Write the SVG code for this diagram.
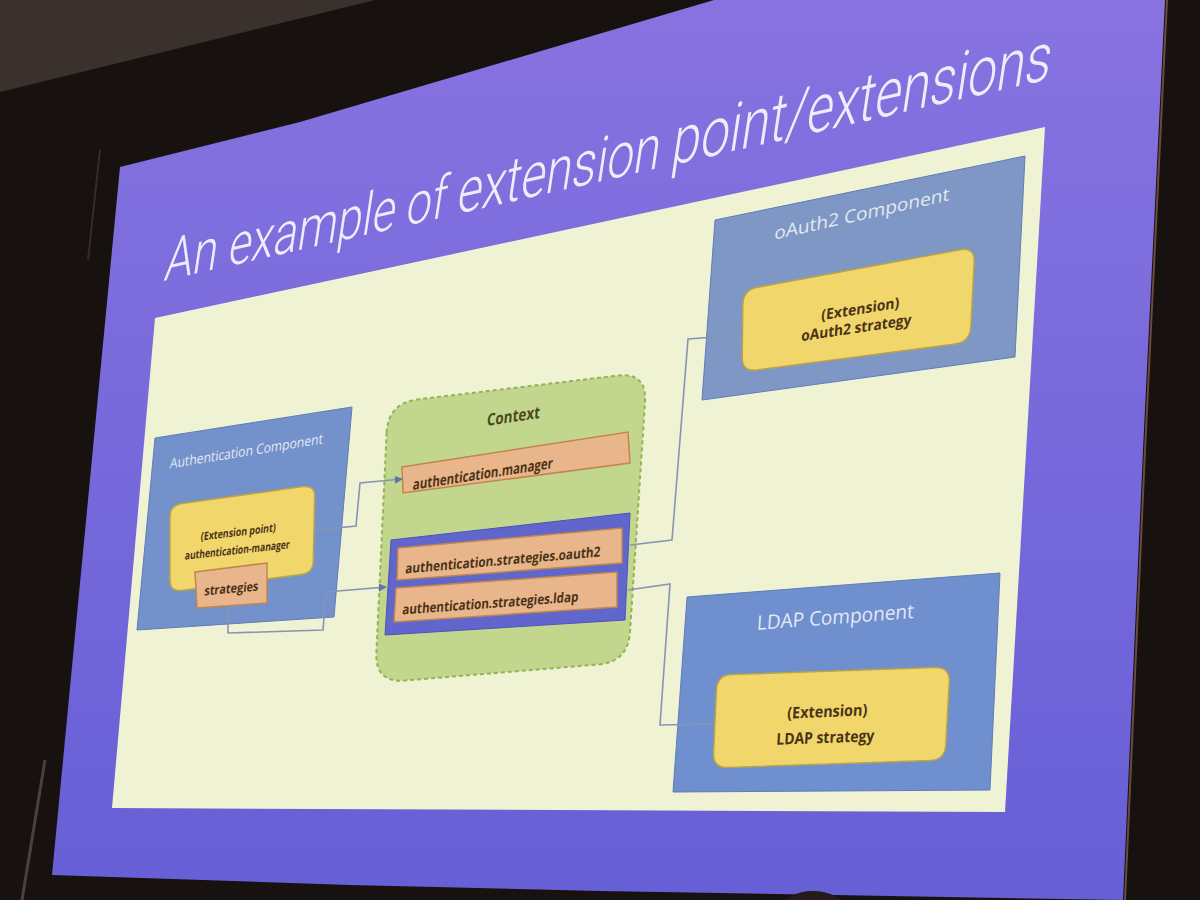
<svg xmlns="http://www.w3.org/2000/svg" width="1200" height="900" viewBox="0 0 1200 900">
  <defs>
    <linearGradient id="purple" x1="0" y1="0" x2="0" y2="1">
      <stop offset="0" stop-color="#8773e0"/>
      <stop offset="1" stop-color="#675fd6"/>
    </linearGradient>
    <marker id="arr" viewBox="0 0 10 10" refX="9" refY="5" markerWidth="8" markerHeight="8" orient="auto" markerUnits="userSpaceOnUse">
      <path d="M0,0 L10,5 L0,10 z" fill="#5d72b2"/>
    </marker>
    <style>
      .comp { fill: #7391ca; stroke: #5f7db8; stroke-width: 1; }
      .yellow { fill: #f1d66c; stroke: #b9a548; stroke-width: 1.5; }
      .peach { fill: #e9b68c; stroke: #c0864c; stroke-width: 1.5; }
      .lbl { font-family: 'Open Sans', 'Noto Sans', 'Liberation Sans', sans-serif; font-weight: bold; fill: #4a3316; text-anchor: middle; }
      .ctitle { font-family: 'Open Sans', 'Noto Sans', 'Liberation Sans', sans-serif; fill: #e4e9f3; text-anchor: middle; }
      .conn { fill: none; stroke: #8694b6; stroke-width: 1.6; }
    </style>
  </defs>

  <!-- room / screen background -->
  <g id="background">
    <rect x="0" y="0" width="1200" height="900" fill="#17110f"/>
    <polygon points="0,0 375,0 0,92" fill="#3a312d"/>
    <line x1="100" y1="150" x2="88" y2="260" stroke="#4a3e39" stroke-width="2" opacity="0.6"/>
    <line x1="45" y1="760" x2="22" y2="900" stroke="#5a4c45" stroke-width="3" opacity="0.8"/>
    <polygon points="120,167 300,122 500,63 714,0 1165,0 1143,450 1123,900 600,891 350,885 52,875" fill="url(#purple)"/>
    <polyline points="1167,0 1145,450 1125,900" fill="none" stroke="#6b4a40" stroke-width="2"/>
    <ellipse cx="813" cy="906" rx="30" ry="15" fill="#241c18"/>
  </g>

  <!-- slide title -->
  <g id="title">
    <text transform="matrix(1 -0.228 -0.15 1 163 281)" x="0" y="0" textLength="886" lengthAdjust="spacingAndGlyphs" font-family="Roboto, Lato, 'Open Sans', sans-serif" font-weight="300" fill="#eeedfb"><tspan font-size="60">An example of </tspan><tspan font-size="64">extension </tspan><tspan font-size="69">point/extensions</tspan></text>
  </g>

  <!-- diagram panel -->
  <g id="panel">
    <polygon points="155,318 1045,127 1005,812 112,808" fill="#f0f2d4"/>
  </g>

  <g id="authentication-component">
    <polygon class="comp" points="155,438 352,407 334,617 137,630"/>
    <text class="ctitle" transform="matrix(1 -0.163 -0.09 1 246 456)" font-size="14" textLength="153" lengthAdjust="spacingAndGlyphs">Authentication Component</text>
    <g id="extension-point">
      <path class="yellow" d="M170,517 Q170,505 181.9,503.4 L303.1,486.6 Q315,485 314.7,497 L313.3,561 Q313,573 301.1,574.6 L181.9,590.4 Q170,592 170,580 Z"/>
      <text class="lbl" transform="matrix(1 -0.12 -0.09 1 238 536)" font-size="11.5" textLength="75" lengthAdjust="spacingAndGlyphs">(Extension point)</text>
      <text class="lbl" transform="matrix(1 -0.11 -0.09 1 237 554)" font-size="11.5" textLength="105" lengthAdjust="spacingAndGlyphs">authentication-manager</text>
    </g>
    <g id="strategies">
      <polygon class="peach" points="195,572 267,563 267,603 197,608"/>
      <text class="lbl" transform="matrix(1 -0.09 -0.09 1 231 593)" font-size="13" textLength="54" lengthAdjust="spacingAndGlyphs">strategies</text>
    </g>
  </g>

  <g id="context">
    <path d="M386.6,433 Q388,403 417.8,399.4 L617.2,375.6 Q647,372 645,402 L630,632 Q628,662 598,664.5 L405,680.5 Q375,683 376.4,653 Z" fill="#c2d78d" stroke="#93b455" stroke-width="2" stroke-dasharray="4 3"/>
    <text class="lbl" transform="matrix(1 -0.15 -0.085 1 513 422)" font-size="17" fill="#4a4a1e" style="fill:#4a4a1e" textLength="53" lengthAdjust="spacingAndGlyphs">Context</text>
    <g id="authentication-manager">
      <polygon class="peach" points="402,467 628,432 630,463 403,493"/>
      <text class="lbl" transform="matrix(1 -0.156 -0.08 1 482.5 479)" font-size="15" textLength="140" lengthAdjust="spacingAndGlyphs">authentication.manager</text>
    </g>
    <g id="strategies-group">
      <polygon points="391,540 630,513 625,620 385,635" fill="#6066cc" stroke="#4c54b8" stroke-width="1"/>
      <g id="strategies-oauth2">
        <polygon class="peach" points="398,548 622,528 622,563 397,580"/>
        <text class="lbl" transform="matrix(1 -0.087 -0.08 1 502.5 565)" font-size="14" textLength="195" lengthAdjust="spacingAndGlyphs">authentication.strategies.oauth2</text>
      </g>
      <g id="strategies-ldap">
        <polygon class="peach" points="396,588 617,572 617,607 394,622"/>
        <text class="lbl" transform="matrix(1 -0.074 -0.08 1 490 608)" font-size="14" textLength="176" lengthAdjust="spacingAndGlyphs">authentication.strategies.ldap</text>
      </g>
    </g>
  </g>

  <g id="oauth2-component">
    <polygon class="comp" points="715,220 1025,156 1015,357 702,400" style="fill:#7f97c4"/>
    <text class="ctitle" transform="matrix(1 -0.225 -0.065 1 861.5 220)" font-size="18" textLength="175" lengthAdjust="spacingAndGlyphs">oAuth2 Component</text>
    <g id="oauth2-strategy">
      <path class="yellow" d="M742.8,305 Q743,290 757.7,287.3 L960.3,249.7 Q975,247 974.2,262 L970.8,327 Q970,342 955.1,344 L756.9,370 Q742,372 742.2,357 Z"/>
      <text class="lbl" transform="matrix(1 -0.16 -0.065 1 860 314)" font-size="15" textLength="78" lengthAdjust="spacingAndGlyphs">(Extension)</text>
      <text class="lbl" transform="matrix(1 -0.15 -0.065 1 856 333)" font-size="15" textLength="110" lengthAdjust="spacingAndGlyphs">oAuth2 strategy</text>
    </g>
  </g>

  <g id="ldap-component">
    <polygon class="comp" points="687,597 1000,573 990,790 673,792" style="fill:#6f8fcf"/>
    <text class="ctitle" transform="matrix(1 -0.075 -0.065 1 835 624)" font-size="20" textLength="157" lengthAdjust="spacingAndGlyphs">LDAP Component</text>
    <g id="ldap-strategy">
      <path class="yellow" d="M716.4,690 Q717,675 732,674.5 L935,667.5 Q950,667 949.2,682 L945.8,745 Q945,760 930,760.5 L728,767.5 Q713,768 713.6,753 Z"/>
      <text class="lbl" transform="matrix(1 -0.04 -0.06 1 827 717)" font-size="16" textLength="80" lengthAdjust="spacingAndGlyphs">(Extension)</text>
      <text class="lbl" transform="matrix(1 -0.035 -0.06 1 825 743)" font-size="16" textLength="98" lengthAdjust="spacingAndGlyphs">LDAP strategy</text>
    </g>
  </g>

  <g id="connectors">
    <polyline class="conn" points="316,530 356,526 360,483 402,479" marker-end="url(#arr)"/>
    <polyline class="conn" points="228,608 228,633 323,630 326,592 386,587" marker-end="url(#arr)"/>
    <polyline class="conn" points="630,545 672,540 688,339 743,335"/>
    <polyline class="conn" points="628,590 670,584 660,725 713,724"/>
  </g>
</svg>
